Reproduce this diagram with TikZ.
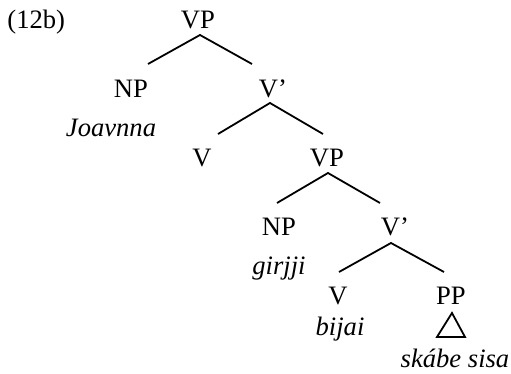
\documentclass[tikz,border=0pt]{standalone}
\usepackage{fontspec}
\setmainfont{Liberation Serif}
\begin{document}
\begin{tikzpicture}[x=0.5pt,y=-0.5pt,
  lbl/.style={anchor=base, inner sep=0pt, font=\fontsize{13.3}{16}\selectfont},
  word/.style={anchor=base, inner sep=0pt, font=\fontsize{13.3}{16}\selectfont\itshape},
  branch/.style={line width=0.9pt, line cap=butt}]
\useasboundingbox (0,0) rectangle (511,374);
\node[lbl, anchor=base west] (ex) at (7,29) {(12b)};
% level 1
\node[lbl] (vp1) at (198,29) {VP};
\coordinate (vp1a) at (200,35);
\coordinate (vp1l) at (148,64);
\coordinate (vp1r) at (252,64);
\draw[branch] (vp1l) -- (vp1a) -- (vp1r);
% level 2
\node[lbl] (np1) at (131,98) {NP};
\node[word] (w1) at (111,137) {Joavnna};
\node[lbl] (vb1) at (273,98) {V’};
\coordinate (vb1a) at (270,103);
\coordinate (vb1l) at (218,134);
\coordinate (vb1r) at (323,134);
\draw[branch] (vb1l) -- (vb1a) -- (vb1r);
% level 3
\node[lbl] (v1) at (202,167) {V};
\node[lbl] (vp2) at (327,167) {VP};
\coordinate (vp2a) at (328,173);
\coordinate (vp2l) at (277,203);
\coordinate (vp2r) at (380,203);
\draw[branch] (vp2l) -- (vp2a) -- (vp2r);
% level 4
\node[lbl] (np2) at (279,236) {NP};
\node[word] (w2) at (279,275) {girjji};
\node[lbl] (vb2) at (395,236) {V’};
\coordinate (vb2a) at (391,243);
\coordinate (vb2l) at (339,272);
\coordinate (vb2r) at (444,272);
\draw[branch] (vb2l) -- (vb2a) -- (vb2r);
% level 5
\node[lbl] (v2) at (338,305) {V};
\node[word] (w3) at (340,336) {bijai};
\node[lbl] (pp) at (451,305) {PP};
\coordinate (ta) at (452,313);
\coordinate (tl) at (437,337);
\coordinate (tr) at (465,337);
\draw[branch, line join=miter] (ta) -- (tl) -- (tr) -- cycle;
\node[word] (w4) at (455,368) {skábe sisa};
\end{tikzpicture}
\end{document}
